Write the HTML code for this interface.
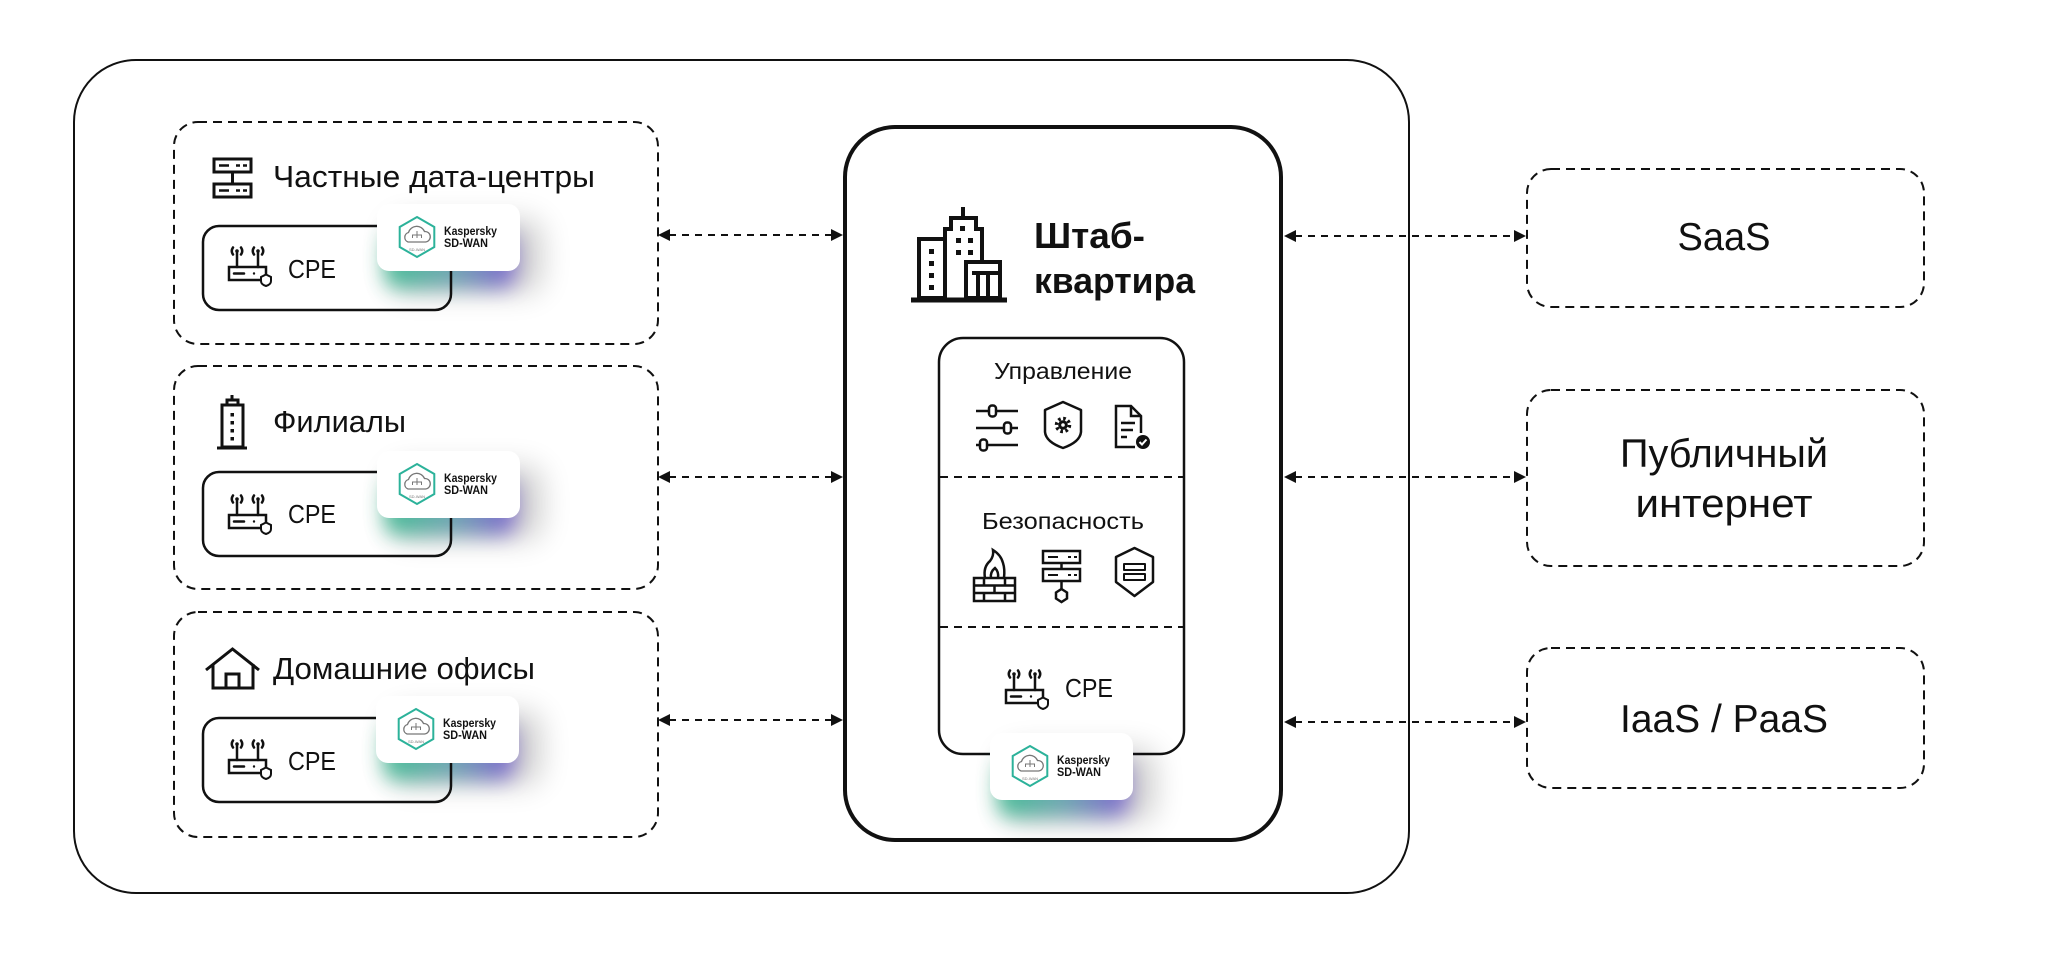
<!DOCTYPE html>
<html><head><meta charset="utf-8">
<style>
html,body{margin:0;padding:0;background:#fff;}
svg{display:block;}
text{font-family:"Liberation Sans",sans-serif;fill:#111;}
</style></head><body>
<svg width="2048" height="977" viewBox="0 0 2048 977" xmlns="http://www.w3.org/2000/svg">
<defs>
 <linearGradient id="gl" x1="0" x2="1" y1="0" y2="0">
  <stop offset="0" stop-color="#3dbd92"/>
  <stop offset="0.5" stop-color="#6aa6b0"/>
  <stop offset="1" stop-color="#7a5fd0"/>
 </linearGradient>
 <filter id="b1" x="-60%" y="-60%" width="220%" height="220%"><feGaussianBlur stdDeviation="10"/></filter>
 <filter id="b2" x="-60%" y="-60%" width="220%" height="220%"><feGaussianBlur stdDeviation="15"/></filter>

 <g id="router" fill="none" stroke="#111" stroke-width="2.5" stroke-linecap="round">
  <path d="M5,0.5 Q2.5,4 5,7.5 M13,0.5 Q15.5,4 13,7.5"/>
  <circle cx="9" cy="4" r="1.8" fill="#111" stroke="none"/>
  <line x1="9" y1="4" x2="9" y2="20"/>
  <path d="M26,0.5 Q23.5,4 26,7.5 M34,0.5 Q36.5,4 34,7.5"/>
  <circle cx="30" cy="4" r="1.8" fill="#111" stroke="none"/>
  <line x1="30" y1="4" x2="30" y2="20"/>
  <rect x="1" y="20" width="37" height="13" stroke-linecap="butt"/>
  <line x1="6" y1="26.5" x2="16" y2="26.5"/>
  <circle cx="26" cy="26.5" r="1.2" fill="#111" stroke="none"/>
  <path d="M38,27.5 L43,30 V34 Q43,37.5 38,39 Q33,37.5 33,34 V30 Z" fill="#fff" stroke-width="2"/>
 </g>

 <g id="glow">
  <rect x="14" y="16" width="150" height="72" rx="14" fill="#000" opacity="0.2" filter="url(#b2)"/>
  <rect x="8" y="28" width="130" height="56" rx="14" fill="url(#gl)" opacity="0.95" filter="url(#b1)"/>
 </g>

 <g id="badge">
  <rect x="0" y="0" width="143" height="67" rx="12" fill="#fff"/>
  <polygon points="40,13 57.3,23 57.3,43 40,53 22.7,43 22.7,23" fill="#fff" stroke="#2cb29a" stroke-width="2"/>
  <path d="M31,38 a5,5 0 0 1 0.5,-9.5 a8.5,8.5 0 0 1 16,-1 a5,5 0 0 1 1,10.5 z" fill="none" stroke="#777" stroke-width="1.3"/>
  <path d="M40,27 V31 M35.5,34 V31 H44.5 V34 M40,31 V34" fill="none" stroke="#777" stroke-width="1"/>
  <text x="40" y="47" font-size="4" text-anchor="middle" style="fill:#777">SD-WAN</text>
  <text x="67" y="31" font-size="12" font-weight="bold" textLength="53" lengthAdjust="spacingAndGlyphs">Kaspersky</text>
  <text x="67" y="43" font-size="12" font-weight="bold" textLength="44" lengthAdjust="spacingAndGlyphs">SD-WAN</text>
 </g>
</defs>

<!-- outer box -->
<rect x="74" y="60" width="1335" height="833" rx="62" fill="none" stroke="#111" stroke-width="2"/>

<!-- left dashed boxes -->
<g fill="none" stroke="#111" stroke-width="2" stroke-dasharray="9 6">
 <rect x="174" y="122" width="484" height="222" rx="24"/>
 <rect x="174" y="366" width="484" height="223" rx="24"/>
 <rect x="174" y="612" width="484" height="225" rx="24"/>
</g>

<!-- right dashed boxes -->
<g fill="none" stroke="#111" stroke-width="2" stroke-dasharray="9 6">
 <rect x="1527" y="169" width="397" height="138" rx="24"/>
 <rect x="1527" y="390" width="397" height="176" rx="24"/>
 <rect x="1527" y="648" width="397" height="140" rx="24"/>
</g>

<!-- arrows -->
<g stroke="#111" stroke-width="2" stroke-dasharray="7 6">
 <line x1="669" y1="235" x2="832" y2="235"/>
 <line x1="669" y1="477" x2="832" y2="477"/>
 <line x1="669" y1="720" x2="832" y2="720"/>
 <line x1="1295" y1="236" x2="1515" y2="236"/>
 <line x1="1295" y1="477" x2="1515" y2="477"/>
 <line x1="1295" y1="722" x2="1515" y2="722"/>
</g>
<g fill="#111">
 <polygon points="658,235 670,229 670,241"/>
 <polygon points="843,235 831,229 831,241"/>
 <polygon points="658,477 670,471 670,483"/>
 <polygon points="843,477 831,471 831,483"/>
 <polygon points="658,720 670,714 670,726"/>
 <polygon points="843,720 831,714 831,726"/>
 <polygon points="1284,236 1296,230 1296,242"/>
 <polygon points="1526,236 1514,230 1514,242"/>
 <polygon points="1284,477 1296,471 1296,483"/>
 <polygon points="1526,477 1514,471 1514,483"/>
 <polygon points="1284,722 1296,716 1296,728"/>
 <polygon points="1526,722 1514,716 1514,728"/>
</g>

<!-- right labels -->
<text x="1724" y="250" font-size="39" text-anchor="middle" textLength="93" lengthAdjust="spacingAndGlyphs">SaaS</text>
<text x="1724" y="467" font-size="40" text-anchor="middle" textLength="208" lengthAdjust="spacingAndGlyphs">Публичный</text>
<text x="1724" y="517" font-size="40" text-anchor="middle" textLength="177" lengthAdjust="spacingAndGlyphs">интернет</text>
<text x="1724" y="732" font-size="39" text-anchor="middle" textLength="208" lengthAdjust="spacingAndGlyphs">IaaS / PaaS</text>

<!-- row 1: private data centers -->
<g fill="none" stroke="#111" stroke-width="3">
 <rect x="214" y="159" width="37" height="13"/>
 <rect x="214" y="184" width="37" height="13"/>
 <line x1="232.5" y1="172" x2="232.5" y2="184"/>
 <line x1="219" y1="165.5" x2="229" y2="165.5" stroke-width="2.5"/>
 <line x1="219" y1="190.5" x2="229" y2="190.5" stroke-width="2.5"/>
 <line x1="236" y1="165.5" x2="240" y2="165.5" stroke-width="2.5"/>
 <line x1="243" y1="165.5" x2="247" y2="165.5" stroke-width="2.5"/>
 <line x1="236" y1="190.5" x2="240" y2="190.5" stroke-width="2.5"/>
 <line x1="243" y1="190.5" x2="247" y2="190.5" stroke-width="2.5"/>
</g>
<text x="273" y="187" font-size="31" textLength="322" lengthAdjust="spacingAndGlyphs">Частные дата-центры</text>
<use href="#glow" x="377" y="204"/>
<rect x="203" y="226" width="248" height="84" rx="16" fill="none" stroke="#111" stroke-width="2.5"/>
<use href="#router" x="228" y="247"/>
<text x="288" y="278" font-size="26" textLength="48" lengthAdjust="spacingAndGlyphs">CPE</text>
<use href="#badge" x="377" y="204"/>

<!-- row 2: branches -->
<g fill="none" stroke="#111" stroke-width="3">
 <line x1="232" y1="395" x2="232" y2="401"/>
 <path d="M227,405 V400 H238 V405"/>
 <rect x="222" y="405" width="21" height="42"/>
 <line x1="217" y1="448" x2="247" y2="448"/>
</g>
<g fill="#111">
 <rect x="230.5" y="413" width="3.5" height="3.5"/>
 <rect x="230.5" y="421" width="3.5" height="3.5"/>
 <rect x="230.5" y="429" width="3.5" height="3.5"/>
 <rect x="230.5" y="437" width="3.5" height="3.5"/>
</g>
<text x="273" y="432" font-size="31" textLength="133" lengthAdjust="spacingAndGlyphs">Филиалы</text>
<use href="#glow" x="377" y="451"/>
<rect x="203" y="472" width="248" height="84" rx="16" fill="none" stroke="#111" stroke-width="2.5"/>
<use href="#router" x="228" y="495"/>
<text x="288" y="523" font-size="26" textLength="48" lengthAdjust="spacingAndGlyphs">CPE</text>
<use href="#badge" x="377" y="451"/>

<!-- row 3: home offices -->
<g fill="none" stroke="#111" stroke-width="3" stroke-linejoin="miter">
 <path d="M206,670 L232.5,649 L259,670"/>
 <path d="M213,664 V688 H253 V664"/>
 <path d="M226,688 V674 H239 V688"/>
</g>
<text x="273" y="679" font-size="31" textLength="262" lengthAdjust="spacingAndGlyphs">Домашние офисы</text>
<use href="#glow" x="376" y="696"/>
<rect x="203" y="718" width="248" height="84" rx="16" fill="none" stroke="#111" stroke-width="2.5"/>
<use href="#router" x="228" y="740"/>
<text x="288" y="770" font-size="26" textLength="48" lengthAdjust="spacingAndGlyphs">CPE</text>
<use href="#badge" x="376" y="696"/>

<!-- HQ box -->
<rect x="845" y="127" width="436" height="713" rx="50" fill="#fff" stroke="#111" stroke-width="4"/>

<!-- building icon -->
<g fill="none" stroke="#111" stroke-width="4">
 <line x1="963" y1="207" x2="963" y2="218"/>
 <path d="M945,298 V229 H951 V218 H976 V229 H982 V262"/>
 <rect x="919" y="239" width="26" height="59"/>
 <rect x="966" y="262" width="34" height="36"/>
 <path d="M972,273 H1000 M978,273 V298 M988,273 V298"/>
 <line x1="911" y1="300" x2="1007" y2="300" stroke-width="5"/>
</g>
<g fill="#111">
 <rect x="929" y="249" width="5" height="5"/>
 <rect x="929" y="261" width="5" height="5"/>
 <rect x="929" y="273" width="5" height="5"/>
 <rect x="929" y="285" width="5" height="5"/>
 <rect x="960" y="226" width="5" height="5"/>
 <rect x="956" y="238" width="5" height="5"/>
 <rect x="968" y="238" width="5" height="5"/>
 <rect x="956" y="250" width="5" height="5"/>
 <rect x="968" y="250" width="5" height="5"/>
</g>
<text x="1034" y="248" font-size="36" font-weight="bold" textLength="111" lengthAdjust="spacingAndGlyphs">Штаб-</text>
<text x="1034" y="293" font-size="36" font-weight="bold" textLength="161" lengthAdjust="spacingAndGlyphs">квартира</text>

<!-- inner box -->
<rect x="939" y="338" width="245" height="416" rx="24" fill="none" stroke="#111" stroke-width="2.5"/>
<g stroke="#111" stroke-width="2" stroke-dasharray="8 6">
 <line x1="940" y1="477" x2="1183" y2="477"/>
 <line x1="940" y1="627" x2="1183" y2="627"/>
</g>

<text x="1063" y="379" font-size="23" text-anchor="middle" textLength="138" lengthAdjust="spacingAndGlyphs">Управление</text>

<!-- sliders -->
<g stroke="#111" stroke-width="2.5" fill="#fff">
 <line x1="976" y1="411" x2="1018" y2="411"/>
 <line x1="976" y1="428" x2="1018" y2="428"/>
 <line x1="976" y1="445" x2="1018" y2="445"/>
 <rect x="989" y="405.5" width="7" height="11" rx="3"/>
 <rect x="1004" y="422.5" width="7" height="11" rx="3"/>
 <rect x="980" y="439.5" width="7" height="11" rx="3"/>
</g>
<!-- shield gear -->
<path d="M1063,402 L1081,410 V432 Q1080,442 1063,448 Q1046,442 1045,432 V410 Z" fill="none" stroke="#111" stroke-width="2.5" stroke-linejoin="round"/>
<circle cx="1063" cy="425" r="6.5" fill="none" stroke="#111" stroke-width="3.5" stroke-dasharray="2.6 2.5"/>
<circle cx="1063" cy="425" r="4.8" fill="#111"/>
<circle cx="1063" cy="425" r="1.8" fill="#fff"/>
<!-- doc check -->
<g fill="none" stroke="#111" stroke-width="2.5" stroke-linejoin="miter">
 <path d="M1135,447 H1116 V406 H1131 L1141,416 V433"/>
 <path d="M1131,406 V416 H1141"/>
 <line x1="1121" y1="423" x2="1135" y2="423"/>
 <line x1="1121" y1="430" x2="1133" y2="430"/>
 <line x1="1121" y1="437" x2="1127" y2="437"/>
</g>
<circle cx="1143" cy="442" r="7" fill="#111"/>
<path d="M1139.5,442 L1142,444.5 L1146.5,439.5" fill="none" stroke="#fff" stroke-width="2"/>

<text x="1063" y="529" font-size="23" text-anchor="middle" textLength="162" lengthAdjust="spacingAndGlyphs">Безопасность</text>

<!-- firewall -->
<g fill="none" stroke="#111" stroke-width="2.5">
 <rect x="974" y="578" width="41" height="23"/>
 <line x1="974" y1="585.5" x2="1015" y2="585.5"/>
 <line x1="974" y1="593" x2="1015" y2="593"/>
 <path d="M984,578 V585.5 M1005,578 V585.5 M994.5,585.5 V593 M984,593 V601 M1005,593 V601"/>
 <path d="M985,578 Q983,567 990,561 Q994,556 993,550 Q1001,555 1003,563 Q1005,569 1004,578"/>
 <path d="M991,578 Q990,572 995,568 Q999,572 998,578"/>
</g>
<!-- server hex -->
<g fill="none" stroke="#111" stroke-width="2.5">
 <rect x="1043" y="551" width="37" height="12"/>
 <rect x="1043" y="569" width="37" height="12"/>
 <line x1="1061.5" y1="563" x2="1061.5" y2="569"/>
 <line x1="1061.5" y1="581" x2="1061.5" y2="589"/>
 <polygon points="1061.5,589 1067,592.5 1067,598.5 1061.5,602 1056,598.5 1056,592.5"/>
 <line x1="1048" y1="557" x2="1058" y2="557" stroke-width="2"/>
 <line x1="1048" y1="575" x2="1058" y2="575" stroke-width="2"/>
 <path d="M1068,557 H1071 M1074,557 H1077 M1068,575 H1071 M1074,575 H1077" stroke-width="2"/>
</g>
<!-- shield server -->
<g fill="none" stroke="#111" stroke-width="2.5" stroke-linejoin="round">
 <path d="M1134.5,548 L1153,557 V582 L1134.5,596 L1116,582 V557 Z"/>
 <rect x="1124" y="564" width="21" height="6" stroke-width="2"/>
 <rect x="1124" y="574" width="21" height="6" stroke-width="2"/>
</g>

<use href="#router" x="1005" y="670"/>
<text x="1065" y="697" font-size="26" textLength="48" lengthAdjust="spacingAndGlyphs">CPE</text>

<use href="#glow" x="990" y="733"/>
<use href="#badge" x="990" y="733"/>
</svg>
</body></html>
